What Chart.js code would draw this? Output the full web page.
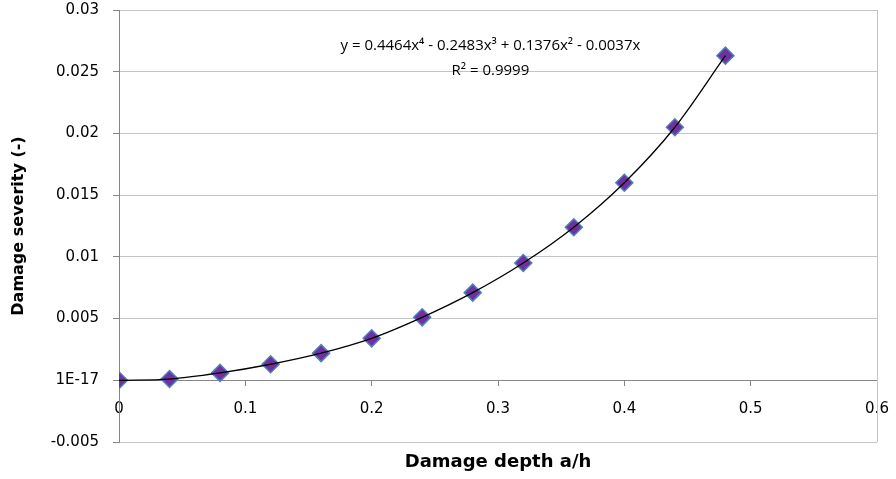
<!DOCTYPE html>
<html>
<head>
<meta charset="utf-8">
<script src="https://cdn.jsdelivr.net/npm/chart.js@4/dist/chart.umd.min.js"></script>
<style>
  html, body { margin: 0; padding: 0; background: #fff; }
</style>
</head>
<body>
<canvas id="chart1" width="896" height="479"></canvas>
<script>
// values
const depth = [0, 0.04, 0.08, 0.12, 0.16, 0.2, 0.24, 0.28, 0.32, 0.36, 0.4, 0.44, 0.48];
const severity = [0, 0.0001, 0.0006, 0.0013, 0.0022, 0.0034, 0.0051, 0.0071, 0.0095, 0.0124, 0.0160, 0.0205, 0.0263];

const xTicks = [0, 0.1, 0.2, 0.3, 0.4, 0.5, 0.6];
const xTickLabels = ['0', '0.1', '0.2', '0.3', '0.4', '0.5', '0.6'];
const yTicks = [-0.005, 0, 0.005, 0.01, 0.015, 0.02, 0.025, 0.03];
const yTickLabels = ['-0.005', '1E-17', '0.005', '0.01', '0.015', '0.02', '0.025', '0.03'];

const equation = ['y = 0.4464x⁴ - 0.2483x³ + 0.1376x² - 0.0037x', 'R² = 0.9999'];

const points = depth.map((d, i) => ({ x: d, y: severity[i] }));
const axisGray = '#868686';
const gridGray = '#c4c4c4';
const tickFont = { family: 'DejaVu Sans', size: 15 };

// chart.js reserves half a label around each axis, we want the plot box fixed
function noPadding(s) {
    s.paddingTop = 0;
    s.paddingBottom = 0;
    s.paddingLeft = 0;
    s.paddingRight = 0;
}

const plotBorder = {
    id: 'plotBorder',
    beforeDatasetsDraw(chart) {
        const { ctx, chartArea } = chart;
        ctx.save();
        ctx.strokeStyle = gridGray;
        ctx.lineWidth = 1;
        ctx.beginPath();
        ctx.moveTo(chartArea.right + 0.5, chartArea.top);
        ctx.lineTo(chartArea.right + 0.5, chartArea.bottom);
        ctx.stroke();
        ctx.restore();
    }
};

const trendLabel = {
    id: 'trendLabel',
    afterDatasetsDraw(chart) {
        const { ctx, scales } = chart;
        ctx.save();
        ctx.fillStyle = '#000';
        ctx.font = '15px "Open Sans"';
        ctx.textAlign = 'center';
        ctx.textBaseline = 'middle';
        ctx.fillText(equation[0], scales.x.getPixelForValue(0.294), scales.y.getPixelForValue(0.0271));
        ctx.fillText(equation[1], scales.x.getPixelForValue(0.294), scales.y.getPixelForValue(0.0251));
        ctx.restore();
    }
};

const configurations = {
    type: 'scatter',
    data: {
        datasets: [
            {
                label: 'trend',
                data: points,
                showLine: true,
                cubicInterpolationMode: 'monotone',
                borderColor: '#000',
                borderWidth: 1.3,
                pointRadius: 0,
                fill: false
            },
            {
                label: 'Damage severity',
                data: points,
                pointStyle: 'rectRot',
                pointRadius: 8.5,
                pointBackgroundColor: '#7030a0',
                pointBorderColor: '#4f81bd',
                pointBorderWidth: 1.5,
                showLine: false
            }
        ]
    },
    options: {
        responsive: false,
        animation: false,
        devicePixelRatio: 1,
        layout: { padding: { top: 8, right: 19, left: 0, bottom: 0 } },
        scales: {
            x: {
                type: 'linear',
                min: 0,
                max: 0.6,
                position: { y: 0 },
                afterBuildTicks: s => { s.ticks = xTicks.map(v => ({ value: v })); },
                afterFit: noPadding,
                ticks: {
                    callback: (v, i) => xTickLabels[i],
                    font: tickFont,
                    color: '#000',
                    padding: 15,
                    maxRotation: 0,
                    autoSkip: false
                },
                grid: { drawOnChartArea: false, drawTicks: true, tickLength: 5, color: axisGray },
                border: { color: axisGray, width: 1 }
            },
            x2: {
                type: 'linear',
                min: 0,
                max: 0.6,
                position: 'bottom',
                afterFit: s => { noPadding(s); s.height = 37; },
                ticks: { display: false },
                grid: { display: false },
                border: { display: false },
                title: {
                    display: true,
                    text: 'Damage depth a/h',
                    color: '#000',
                    font: { family: 'DejaVu Sans', size: 18, weight: 'bold' },
                    padding: { top: 4, bottom: 6 }
                }
            },
            y: {
                type: 'linear',
                min: -0.005,
                max: 0.03,
                afterBuildTicks: s => { s.ticks = yTicks.map(v => ({ value: v })); },
                afterFit: s => { noPadding(s); s.width = 119; },
                ticks: {
                    callback: (v, i) => yTickLabels[i],
                    font: tickFont,
                    color: '#000',
                    padding: 14
                },
                grid: { color: gridGray, tickColor: axisGray, tickLength: 6 },
                border: { color: axisGray, width: 1 },
                title: {
                    display: true,
                    text: 'Damage severity (-)',
                    color: '#000',
                    font: { family: 'DejaVu Sans', size: 16, weight: 'bold' },
                    padding: { top: 9, bottom: 0 }
                }
            }
        },
        plugins: {
            legend: { display: false },
            tooltip: { enabled: false }
        }
    },
    plugins: [plotBorder, trendLabel]
};

const contexte = document.querySelector('#chart1').getContext('2d');
const graphique = new Chart(contexte, configurations);
</script>
</body>
</html>
